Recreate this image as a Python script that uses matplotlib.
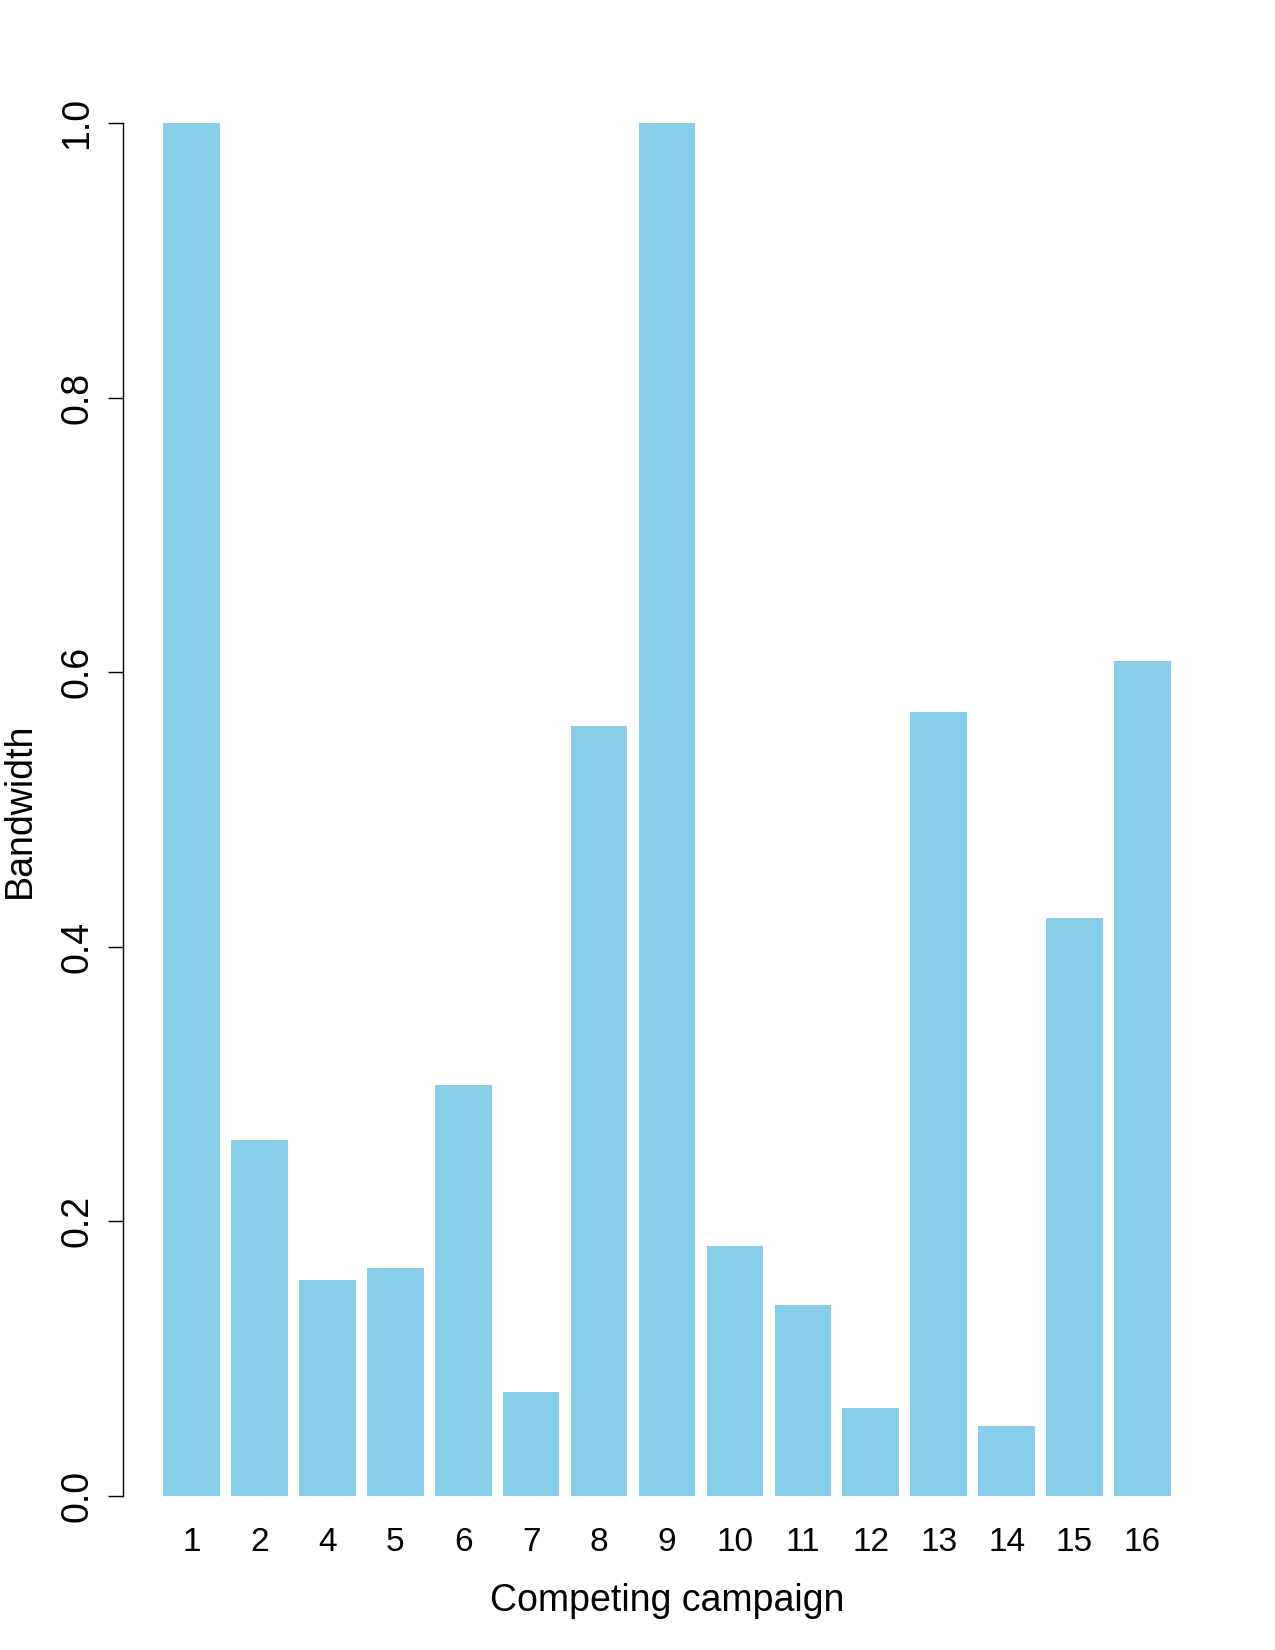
import matplotlib
matplotlib.use("Agg")
import matplotlib.pyplot as plt
import numpy as np

campaigns = ["1", "2", "4", "5", "6", "7", "8", "9", "10", "11", "12", "13", "14", "15", "16"]
bandwidth = [1.0, 0.259, 0.157, 0.166, 0.299, 0.076, 0.561, 1.0,
             0.182, 0.139, 0.064, 0.571, 0.051, 0.421, 0.608]
y_ticks = [0.0, 0.2, 0.4, 0.6, 0.8, 1.0]
y_ticklabels = ["0.0", "0.2", "0.4", "0.6", "0.8", "1.0"]

plt.rcParams["font.family"] = ["Liberation Sans", "DejaVu Sans"]

fig = plt.figure(figsize=(12.75, 16.5), dpi=100)
ax = fig.add_axes([123 / 1275, 1 - 1496 / 1650, (1211 - 123) / 1275, (1496 - 123) / 1650])

# barplot-style positions: width 1, space 0.2
pos = 0.7 + 1.2 * np.arange(len(campaigns))
ax.bar(pos, bandwidth, width=1.0, color="#87CEEB", edgecolor="none")

span = pos[-1] + 0.5 - (pos[0] - 0.5)
ax.set_xlim(pos[0] - 0.5 - 0.04 * span, pos[-1] + 0.5 + 0.04 * span)
ax.set_ylim(0, 1)

for s in ["top", "right", "bottom"]:
    ax.spines[s].set_visible(False)
ax.spines["left"].set_linewidth(1.0)
ax.spines["left"].set_bounds(0, 1)

ax.set_xticks(pos)
ax.set_xticklabels(campaigns, fontsize=24)
ax.tick_params(axis="x", length=0, pad=22)

ax.set_yticks(y_ticks)
ax.set_yticklabels(y_ticklabels, fontsize=27, rotation=90, va="center", ha="right")
ax.tick_params(axis="y", length=10.8, width=1.0, pad=9)

fig.text(667 / 1275, 1 - 1611 / 1650, "Competing campaign", fontsize=27,
         ha="center", va="baseline")
fig.text(20 / 1275, 1 - 810 / 1650, "Bandwidth", fontsize=27,
         ha="center", va="center", rotation=90)

fig.savefig("out.png", dpi=100)
